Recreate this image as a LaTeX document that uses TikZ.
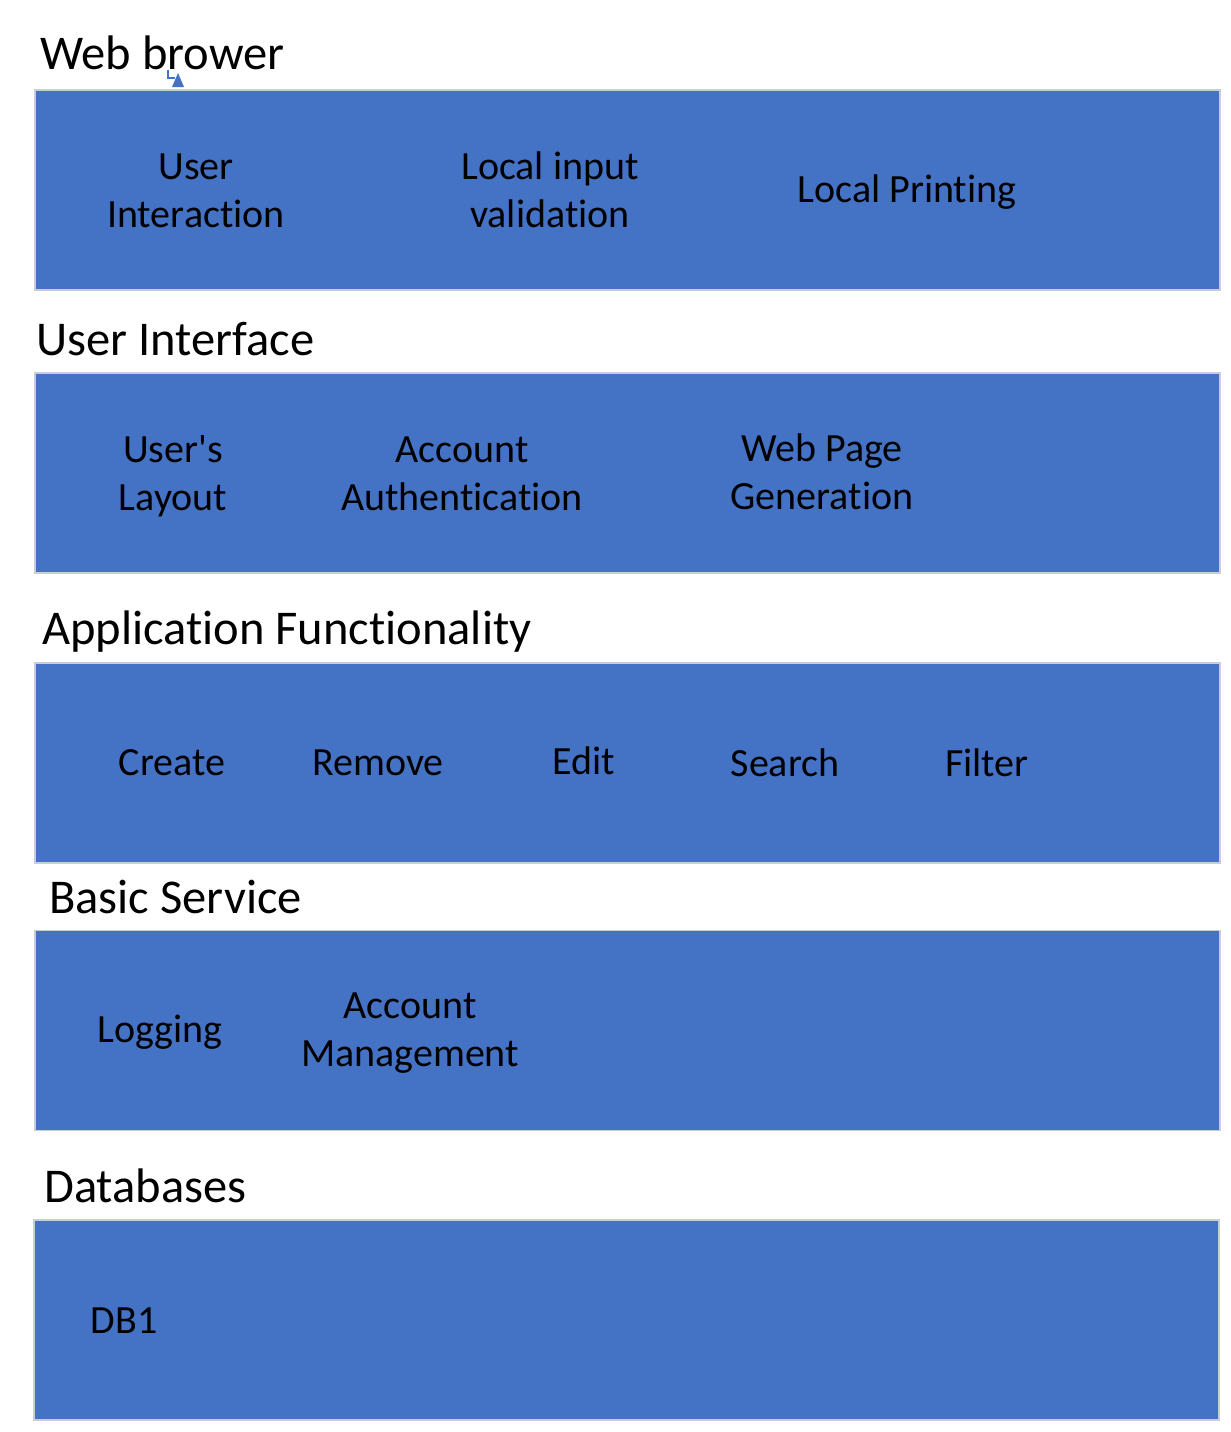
\documentclass[tikz,border=0pt]{standalone}
\usepackage{fontspec}
\setmainfont{Carlito}[Ligatures={NoCommon}]
\usetikzlibrary{arrows.meta}
\definecolor{layerblue}{RGB}{68, 114, 196}
\definecolor{layeredge}{RGB}{200, 205, 215}
\tikzstyle{layer_box}=[rectangle, draw=layeredge, fill=layerblue, line width=1.5pt,
    minimum width=1185pt, minimum height=200pt, inner sep=0pt]
\tikzstyle{layer_title}=[anchor=west, inner sep=0pt, font=\fontsize{48.5}{58}\selectfont]
\tikzstyle{layer_item}=[align=center, inner sep=0pt, font=\fontsize{40}{48}\selectfont]

\begin{document}
\begin{tikzpicture}[x=1pt, y=-1pt]
  % Page frame, one unit is one pixel of the picture
  \useasboundingbox (0,0) rectangle (1231,1432);

  % Draw the five layer boxes
  \node[layer_box] (browser_box)  at (627.5,190)  {};
  \node[layer_box] (ui_box)       at (627.5,473)  {};
  \node[layer_box] (app_box)      at (627.5,763)  {};
  \node[layer_box] (service_box)  at (627.5,1030.5) {};
  \node[layer_box] (db_box)       at (626.5,1320) {};

  % Layer titles above the boxes
  \node[layer_title] (browser_title) at (40,53)   {Web brower};
  \node[layer_title] (ui_title)      at (36,339)  {User Interface};
  \node[layer_title] (app_title)     at (42,632)  {Application Functionality};
  \node[layer_title] (service_title) at (49,897)  {Basic Service};
  \node[layer_title] (db_title)      at (44,1186) {Databases};

  % Small stray connector under the browser title
  \coordinate (stub_start) at (168,70);
  \coordinate (stub_end) at (175,78);
  \draw[layerblue, line width=1.5pt] (stub_start) |- (stub_end);
  \fill[layerblue] (172,87) -- (184,87) -- (178,73) -- cycle;

  % Web browser layer
  \node[layer_item] (user_interaction) at (196,191) {User\\Interaction};
  \node[layer_item] (input_validation) at (550,190) {Local input\\validation};
  \node[layer_item] (local_printing)   at (907,192) {Local Printing};

  % User interface layer
  \node[layer_item] (user_layout)     at (173,476) {User\textquotesingle s\\Layout};
  \node[layer_item] (account_auth)    at (462,474) {Account\\Authentication};
  \node[layer_item] (page_generation) at (822,472) {Web Page\\Generation};

  % Application functionality layer
  \foreach \x/\name/\label in {172/create/Create, 378/remove/Remove, 785/search/Search, 987/filter/Filter} {
      \node[layer_item] (\name) at (\x,763) {\label};
  }
  \node[layer_item] (edit) at (584,761) {Edit};

  % Basic service layer
  \node[layer_item] (logging)      at (160,1032) {Logging};
  \node[layer_item] (account_mgmt) at (410,1033) {Account\\Management};

  % Database layer
  \node[layer_item] (db_one) at (124,1321) {DB1};

\end{tikzpicture}
\end{document}
